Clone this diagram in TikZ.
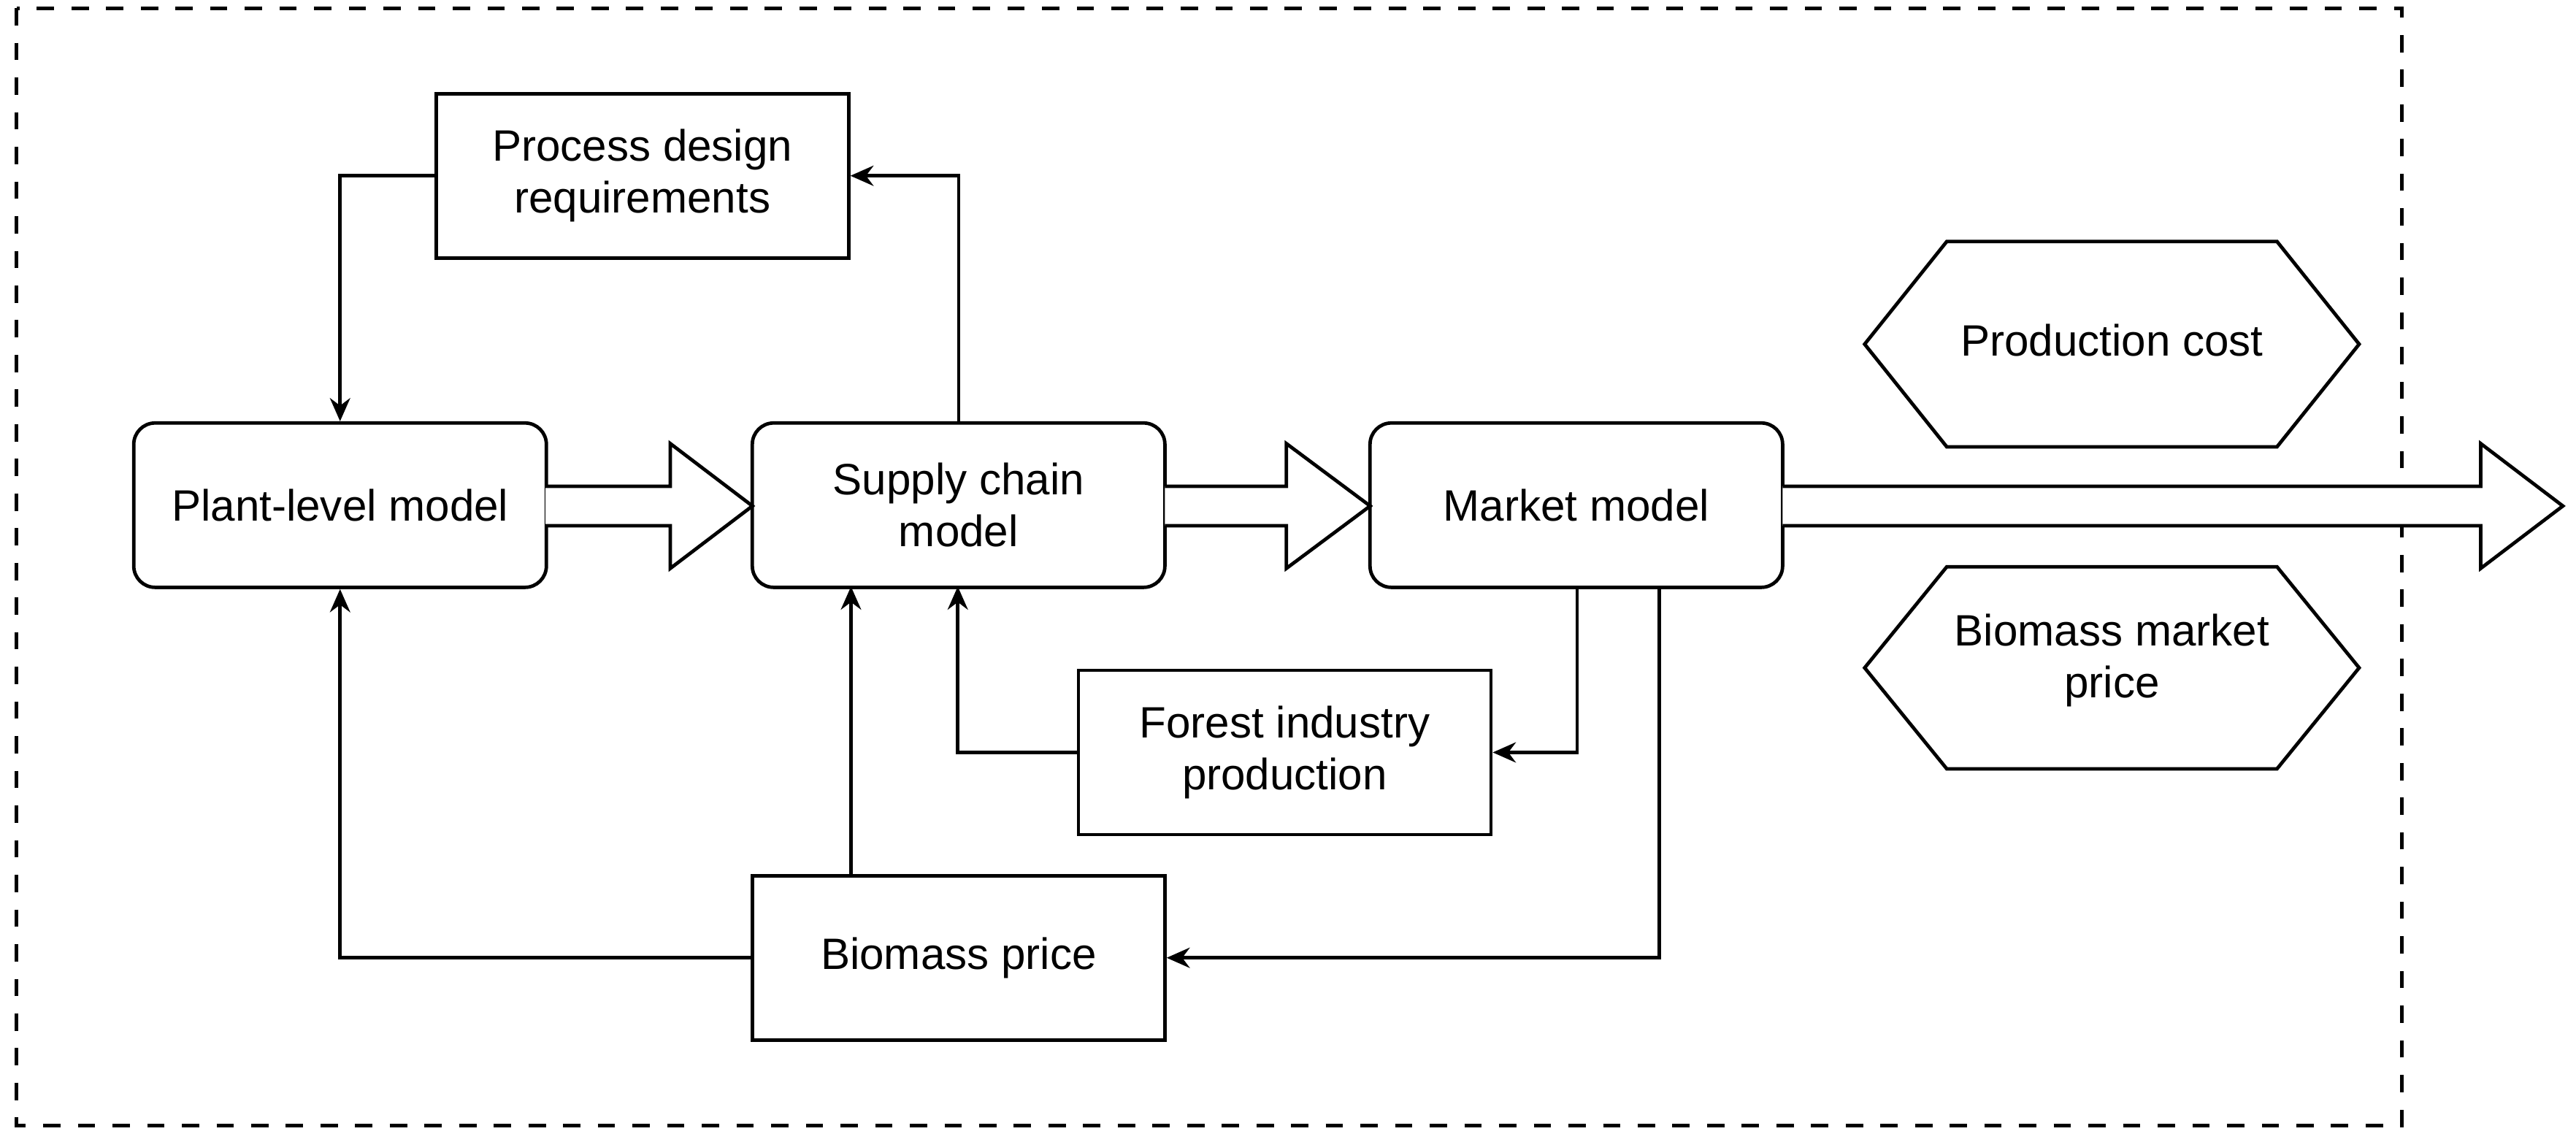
\documentclass[tikz,border=0pt]{standalone}
\usepackage{fontspec}
\setmainfont{Liberation Sans}
\usetikzlibrary{arrows.meta}
\begin{document}
\begin{tikzpicture}[x=0.01cm,y=-0.01cm,
  box/.style={draw,line width=0.6pt,minimum width=2.51cm,minimum height=1cm,align=center,font=\fontsize{7.6}{9}\selectfont,inner sep=0pt},
  rbox/.style={box,rounded corners=0.13cm},
  con/.style={line width=0.6pt,-{Stealth[length=4pt,width=3.5pt]}},
  big/.style={line width=0.6pt,fill=white,line join=miter}]
\useasboundingbox (0,0) rectangle (1568,695);
\draw[dashed,line width=0.6pt] (10,5) rectangle (1462,685);
\node[box] (pdr) at (391,107) {Process design\\requirements};
\node[rbox] (plant) at (207,307.5) {Plant-level model};
\node[rbox] (supply) at (583.5,307.5) {Supply chain\\model};
\node[rbox] (market) at (959.5,307.5) {Market model};
\node[box] (forest) at (782,458) {Forest industry\\production};
\node[box] (bprice) at (583.5,583) {Biomass price};
\draw[line width=0.6pt] (1135,209.5) -- (1185,147) -- (1386,147) -- (1436,209.5) -- (1386,272) -- (1185,272) -- cycle;
\node[font=\fontsize{7.6}{9}\selectfont] (pc) at (1285.5,207) {Production cost};
\draw[line width=0.6pt] (1135,406.5) -- (1185,345) -- (1386,345) -- (1436,406.5) -- (1386,468) -- (1185,468) -- cycle;
\node[font=\fontsize{7.6}{9}\selectfont,align=center] (bmp) at (1285.5,402) {Biomass market\\price};
% big arrows
\draw[big] (332,296) -- (408,296) -- (408,270) -- (458,308) -- (408,346) -- (408,320) -- (332,320);
\draw[big] (709,296) -- (783,296) -- (783,270) -- (834,308) -- (783,346) -- (783,320) -- (709,320);
\draw[big] (1085,296) -- (1510,296) -- (1510,270) -- (1560,308) -- (1510,346) -- (1510,320) -- (1085,320);
% connectors
\draw[con] (supply.north) |- (pdr.east);
\draw[con] (pdr.west) -| (plant.north);
\draw[con] (bprice.west) -| (plant.south);
\coordinate (s1) at (518,357);
\coordinate (s2) at (583,357);
\draw[con] (bprice.north -| s1) -- (s1);
\draw[con] (forest.west) -| (s2);
\coordinate (m1) at (960,357);
\coordinate (m2) at (1010,357);
\draw[con] (m1) |- (forest.east);
\draw[con] (m2) |- (bprice.east);
\end{tikzpicture}
\end{document}
